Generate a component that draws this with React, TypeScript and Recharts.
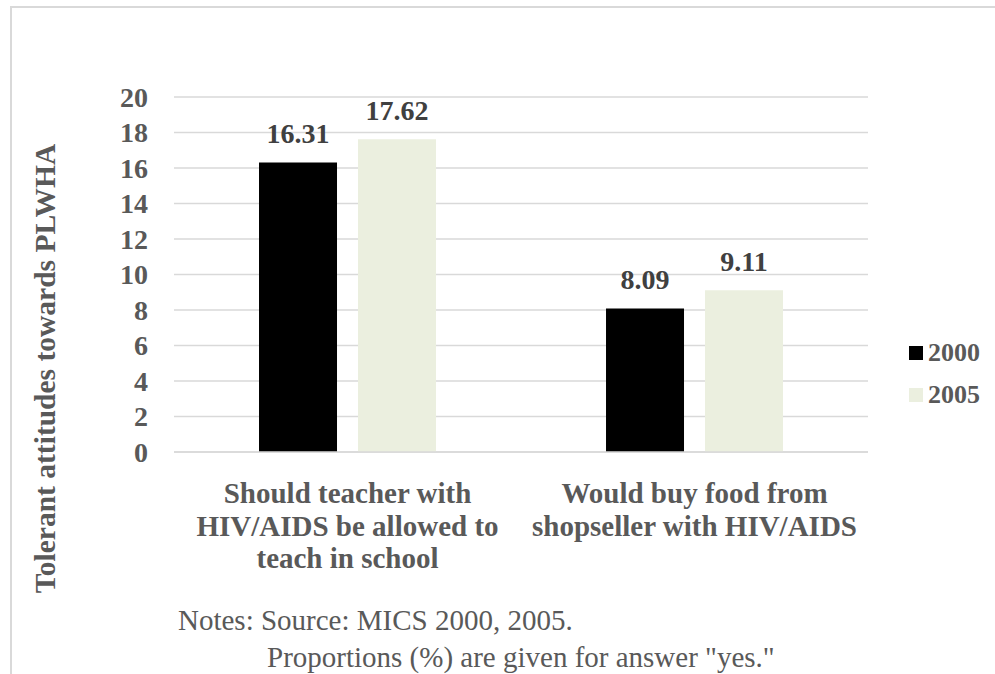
import React from 'react';
import { BarChart, Bar, XAxis, YAxis, CartesianGrid, LabelList, Legend } from 'recharts';

const categories = [
  ['Should teacher with', 'HIV/AIDS be allowed to', 'teach in school'],
  ['Would buy food from', 'shopseller with HIV/AIDS'],
];
const values2000 = [16.31, 8.09];
const values2005 = [17.62, 9.11];
const yTicks = [0, 2, 4, 6, 8, 10, 12, 14, 16, 18, 20];
const seriesNames = ['2000', '2005'];
const notes = ['Notes: Source: MICS 2000, 2005.', 'Proportions (%) are given for answer "yes."'];

const FONT = '"Liberation Serif", "Times New Roman", serif';
const GRAY = '#595959';
const DARK = '#404040';
const COLORS = ['#000000', '#ebefdf'];

const data = categories.map((lines, i) => ({
  name: lines.join(' '),
  y2000: values2000[i],
  y2005: values2005[i],
}));

const CategoryTick = (props: any) => {
  const { x, y, index } = props;
  const lines = categories[index] || [];
  return (
    <text x={x} y={y} textAnchor="middle" fill={GRAY} style={{ fontFamily: FONT, fontWeight: 'bold', fontSize: 29 }}>
      {lines.map((l, i) => (
        <tspan key={i} x={x} y={y + 51 + i * 32.5}>
          {l}
        </tspan>
      ))}
    </text>
  );
};

const YTitle = (props: any) => {
  const vb = props.viewBox || { x: 0, y: 0, height: 0 };
  const cx = 45;
  const cy = vb.y + vb.height / 2 + 94;
  return (
    <text
      x={cx}
      y={cy}
      transform={`rotate(-90, ${cx}, ${cy})`}
      textAnchor="middle"
      dominantBaseline="central"
      fill={GRAY}
      style={{ fontFamily: FONT, fontWeight: 'bold', fontSize: 29.5 }}
    >
      Tolerant attitudes towards PLWHA
    </text>
  );
};

const LegendBox = () => (
  <div style={{ fontFamily: FONT }}>
    {seriesNames.map((s, i) => (
      <div key={s} style={{ display: 'flex', alignItems: 'center', height: 42 }}>
        <span style={{ width: 14, height: 14, background: COLORS[i], display: 'inline-block', marginRight: 5 }} />
        <span style={{ fontSize: 26, fontWeight: 'bold', color: GRAY, lineHeight: '26px' }}>{s}</span>
      </div>
    ))}
  </div>
);

const labelStyle = { fontFamily: FONT, fontWeight: 'bold', fontSize: 28 } as const;

export default function App() {
  return (
    <div style={{ position: 'absolute', left: 0, top: 0, width: 995, height: 674, overflow: 'hidden', background: '#fff' }}>
      <div
        style={{
          position: 'absolute',
          left: 10,
          top: 6,
          width: 1000,
          height: 720,
          border: '2px solid #d9d9d9',
          boxSizing: 'border-box',
        }}
      />
      <div style={{ position: 'absolute', left: 0, top: 0 }}>
        <BarChart
          width={995}
          height={674}
          data={data}
          margin={{ top: 97, right: 41, bottom: 162, left: 0 }}
          barCategoryGap="24.5%"
          barGap={21}
        >
          <CartesianGrid vertical={false} stroke="#d9d9d9" strokeWidth={1.5} />
          <XAxis
            dataKey="name"
            height={60}
            axisLine={{ stroke: '#d9d9d9', strokeWidth: 1.5 }}
            tickLine={false}
            tickSize={0}
            tickMargin={0}
            tick={<CategoryTick />}
            interval={0}
          />
          <YAxis
            width={174}
            domain={[0, 20]}
            ticks={yTicks}
            interval={0}
            axisLine={false}
            tickLine={false}
            tickSize={0}
            tickMargin={26}
            tick={{ fill: GRAY, style: labelStyle }}
            label={<YTitle />}
          />
          <Legend
            layout="vertical"
            align="right"
            verticalAlign="middle"
            content={<LegendBox />}
            wrapperStyle={{ left: 909, top: 332, width: 86 }}
          />
          <Bar dataKey="y2000" name={seriesNames[0]} fill={COLORS[0]} isAnimationActive={false}>
            <LabelList dataKey="y2000" position="top" offset={19} fill={DARK} style={labelStyle} />
          </Bar>
          <Bar dataKey="y2005" name={seriesNames[1]} fill={COLORS[1]} isAnimationActive={false}>
            <LabelList dataKey="y2005" position="top" offset={19} fill={DARK} style={labelStyle} />
          </Bar>
        </BarChart>
      </div>
      <svg width={995} height={674} style={{ position: 'absolute', left: 0, top: 0, pointerEvents: 'none' }}>
        <text x={178} y={630} fill={GRAY} style={{ fontFamily: FONT, fontSize: 29 }}>
          {notes[0]}
        </text>
        <text x={267} y={667} fill={GRAY} style={{ fontFamily: FONT, fontSize: 29 }}>
          {notes[1]}
        </text>
      </svg>
    </div>
  );
}
